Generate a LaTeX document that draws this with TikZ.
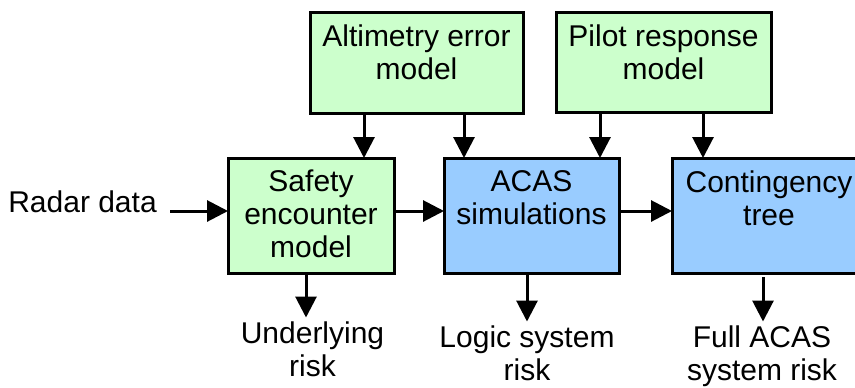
\documentclass[tikz,border=0pt]{standalone}
\usepackage{fontspec}
\setmainfont{Liberation Sans}
\usetikzlibrary{positioning,arrows.meta}
\definecolor{modelgreen}{HTML}{CCFFCC}
\definecolor{simblue}{HTML}{99CCFF}
\tikzset{
    acasflow/.style={
        x=0.75pt, y=-0.75pt,
        font=\fontsize{22.5}{24.75}\selectfont,
        % Stile per i modelli (verde)
        model/.style={draw, rectangle, fill=modelgreen, line width=2.25pt,
                      outer sep=0pt, inner sep=0pt},
        % Stile per le simulazioni (blu)
        sim/.style={model, fill=simblue},
        % Testo dentro i blocchi
        blocktext/.style={align=center, inner sep=0pt},
        % Testo dei rischi sotto i blocchi
        risk/.style={align=center, inner sep=3pt, anchor=north},
        % Frecce
        flow/.style={-{Triangle[length=15.75pt, width=15.75pt]},
                     line width=2.25pt}
    }
}
\begin{document}
\begin{tikzpicture}[acasflow]
        \useasboundingbox (0,0) rectangle (855,387);
        % blocchi in alto
        \node[model, minimum width=159.75pt, minimum height=75.75pt] (alt) at (416.5,62.5) {};
        \node[blocktext, below=9pt of alt.north] (altT) {Altimetry error\\model};
        \node[model, minimum width=161.25pt, minimum height=75pt] (pilot) at (663.5,62) {};
        \node[blocktext, below=9pt of pilot.north] (pilotT) {Pilot response\\model};
        % blocchi centrali
        \node[model, minimum width=124.5pt, minimum height=86.25pt] (safety) at (311,215.5) {};
        \node[blocktext, below=9pt of safety.north] (safetyT) {Safety\\encounter\\model};
        \node[sim, minimum width=131.25pt, minimum height=86.25pt] (acas) at (531.5,215.5) {};
        \node[blocktext, below=9pt of acas.north] (acasT) {ACAS\\simulations};
        \node[sim, minimum width=145.5pt, minimum height=86.25pt] (cont) at (769,215.5) {};
        \node[blocktext, below=9pt of cont.north] (contT) {Contingency\\tree};
        % ingresso e uscite
        \node[anchor=base east, inner xsep=9.75pt, inner ysep=0pt] (radar) at (170,212) {Radar data};
        \node[risk] (under) at (312.5,317.5) {Underlying\\risk};
        \node[risk] (logic) at (527,321.5) {Logic system\\risk};
        \node[risk] (full) at (762,321.5) {Full ACAS\\system risk};
        \coordinate (row) at (0,211);
        % frecce orizzontali
        \draw[flow] (radar.east |- row) -- (safety.west |- row);
        \draw[flow] (safety.east |- row) -- (acas.west |- row);
        \draw[flow] (acas.east |- row) -- (cont.west |- row);
        % frecce dai modelli
        \draw[flow] (364,0 |- alt.south) -- (364,0 |- safety.north);
        \draw[flow] (464,0 |- alt.south) -- (464,0 |- acas.north);
        \draw[flow] (600,0 |- pilot.south) -- (600,0 |- acas.north);
        \draw[flow] (703,0 |- pilot.south) -- (703,0 |- cont.north);
        % frecce verso i rischi
        \draw[flow] (306,0 |- safety.south) -- (306,0 |- under.north);
        \draw[flow] (527,0 |- acas.south) -- (527,0 |- logic.north);
        \draw[flow] (763,277) -- (763,0 |- full.north);
\end{tikzpicture}
\end{document}
